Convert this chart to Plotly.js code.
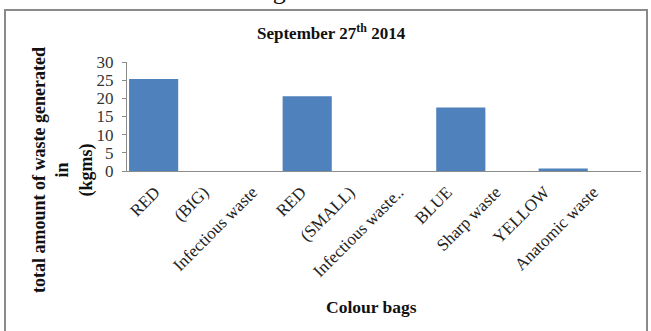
<!DOCTYPE html>
<html>
<head>
<meta charset="utf-8">
<script src="https://cdn.plot.ly/plotly-3.0.1.min.js"></script>
<style>
  html, body { margin: 0; padding: 0; background: #fff; }
  #chart { width: 651px; height: 331px; }
</style>
</head>
<body>
<div id="chart"></div>
<script>
// Waste per colour bag, one label line per category slot
const categories = ["RED", "(BIG)", "Infectious waste", "RED", "(SMALL)",
                    "Infectious waste..", "BLUE", "Sharp waste", "YELLOW", "Anatomic waste"];
const wasteKg = [25.3, null, null, 20.6, null, null, 17.5, null, 0.7, null];
const yTicks = [0, 5, 10, 15, 20, 25, 30];

const W = 651, H = 331;
const M = { l: 127, r: 10, t: 62, b: 160 };
const plotW = W - M.l - M.r, plotH = H - M.t - M.b;
// pixel -> paper coordinate helpers for decorations outside the plot area
const px = x => (x - M.l) / plotW;
const py = y => (H - M.b - y) / plotH;

const serif = "Liberation Serif, Times New Roman, serif";
const positions = categories.map((_, i) => i);

// label axis: the rotated captions run on a slightly tighter pitch than the bars
const labelPitch = 48.7, firstLabelPx = 155;
const labelStart = -(firstLabelPx - M.l) / labelPitch;
const labelRange = [labelStart, labelStart + plotW / labelPitch];

const bars = {
  type: "bar",
  x: positions,
  y: wasteKg,
  marker: { color: "#4F81BD", line: { width: 0 } },
  hoverinfo: "skip"
};

const labelCarrier = {
  type: "scatter",
  mode: "none",
  x: positions,
  y: positions.map(() => null),
  xaxis: "x2",
  hoverinfo: "skip",
  showlegend: false
};

const layout = {
  width: W, height: H,
  margin: M,
  paper_bgcolor: "#fff",
  plot_bgcolor: "#fff",
  showlegend: false,
  bargap: 0.04,
  font: { family: serif, size: 17, color: "#222" },
  xaxis: {
    range: [-0.52, categories.length - 0.48],
    showticklabels: false,
    ticks: "",
    showgrid: false,
    zeroline: false,
    showline: true,
    linecolor: "#8c8c8c",
    linewidth: 1
  },
  xaxis2: {
    overlaying: "x",
    anchor: "y",
    side: "bottom",
    range: labelRange,
    tickmode: "array",
    tickvals: positions,
    ticktext: categories,
    tickangle: -45,
    ticks: "",
    ticklabelstandoff: 7,
    showgrid: false,
    zeroline: false,
    showline: false,
    tickfont: { family: serif, size: 17, color: "#222" }
  },
  yaxis: {
    range: [0, 30],
    tickmode: "array",
    tickvals: yTicks,
    ticks: "outside",
    ticklen: 4,
    tickcolor: "#8c8c8c",
    showgrid: false,
    zeroline: false,
    showline: true,
    linecolor: "#8c8c8c",
    linewidth: 1,
    ticklabelstandoff: 5,
    tickfont: { family: serif, size: 17, color: "#333" }
  },
  shapes: [{
    type: "rect", xref: "paper", yref: "paper",
    x0: px(5), x1: px(647), y0: py(345), y1: py(10),
    line: { color: "#8a8a8a", width: 2 },
    fillcolor: "rgba(0,0,0,0)",
    layer: "below"
  }],
  annotations: [
    {
      text: "August 27<sup>th</sup> 2014",
      xref: "paper", yref: "paper", x: px(331), y: py(7),
      xanchor: "center", yanchor: "bottom", showarrow: false,
      font: { family: serif, size: 26, color: "#111" }
    },
    {
      text: "<b>September 27<sup>th</sup> 2014</b>",
      xref: "paper", yref: "paper", x: px(331), y: py(32),
      xanchor: "center", yanchor: "middle", showarrow: false,
      font: { family: serif, size: 17, color: "#111" }
    },
    {
      text: "<b>total amount of waste generated<br>in<br>(kgms)</b>",
      xref: "paper", yref: "paper", x: px(63), y: py(170),
      xanchor: "center", yanchor: "middle", showarrow: false,
      textangle: -90,
      font: { family: serif, size: 18, color: "#111" }
    },
    {
      text: "<b>Colour bags</b>",
      xref: "paper", yref: "paper", x: px(371), y: py(307),
      xanchor: "center", yanchor: "middle", showarrow: false,
      font: { family: serif, size: 17.5, color: "#111" }
    }
  ]
};

Plotly.newPlot("chart", [bars, labelCarrier], layout, { displayModeBar: false, staticPlot: true });
</script>
</body>
</html>
